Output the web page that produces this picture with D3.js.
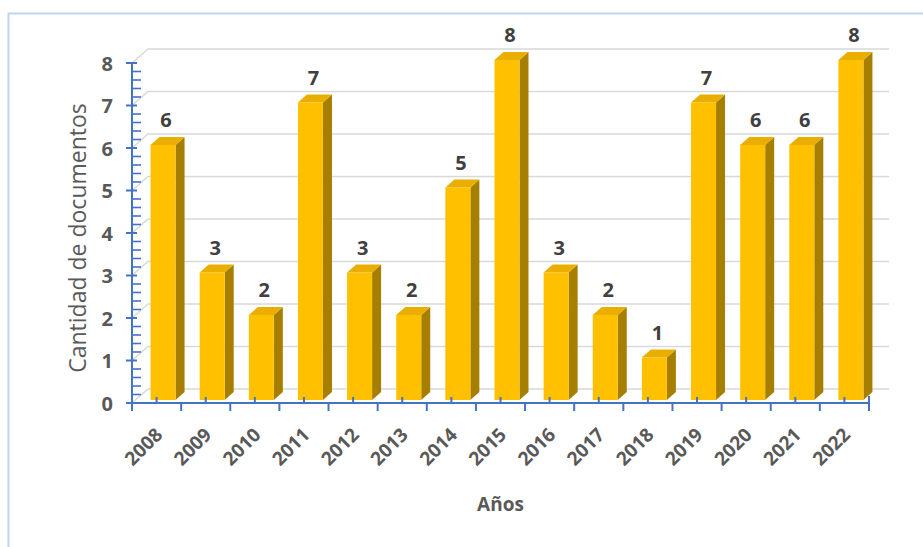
<!DOCTYPE html>
<html><head><meta charset="utf-8">
<script src="https://cdn.jsdelivr.net/npm/d3@7/dist/d3.min.js"></script>
<style>html,body{margin:0;padding:0;background:#fff;}svg{display:block;}</style>
</head><body>
<svg id="c" width="923" height="547"></svg>
<script>
const years = ["2008","2009","2010","2011","2012","2013","2014","2015","2016","2017","2018","2019","2020","2021","2022"];
const counts = [6,3,2,7,3,2,5,8,3,2,1,7,6,6,8];
const yTicks = [0,1,2,3,4,5,6,7,8];
const yTitle = "Cantidad de documentos";
const xTitle = "Años";

const svg = d3.select("#c");
const font = "'Open Sans', sans-serif";
const txt = "#595959";

// chart border
svg.append("rect").attr("x",8.5).attr("y",13.5).attr("width",940).attr("height",560)
  .attr("fill","none").attr("stroke","#BDD7EE").attr("stroke-width",2);

const L = 132, R = 869, B = 403, T = 63;
const wdx = 16, wdy = -14, wallR = 889;
const x = d3.scaleBand().domain(years).range([L,R]).padding(0);
const y = d3.scaleLinear().domain([0,8]).range([B,T]);

// gridlines (back wall + floor slant)
const g = svg.append("g");
yTicks.forEach(v=>{
  const yy = y(v);
  g.append("path").attr("d",`M${L},${yy} L${L+wdx},${yy+wdy} L${wallR},${yy+wdy}`)
   .attr("fill","none").attr("stroke","#D9D9D9").attr("stroke-width",1.6);
});

// bars
const bw = 25, bdx = 9, bdy = -8, off = 3;
const bars = svg.append("g");
years.forEach((yr,i)=>{
  const c = x(yr) + x.bandwidth()/2;
  const x0 = c - 6, x1 = x0 + bw;
  const yb = B - off, yt = y(counts[i]) - off;
  bars.append("path").attr("d",`M${x1},${yb} L${x1+bdx},${yb+bdy} L${x1+bdx},${yt+bdy} L${x1},${yt} Z`).attr("fill","#A67F00");
  bars.append("path").attr("d",`M${x0},${yt} L${x0+bdx},${yt+bdy} L${x1+bdx},${yt+bdy} L${x1},${yt} Z`).attr("fill","#E9AE00");
  bars.append("rect").attr("x",x0).attr("y",yt).attr("width",bw).attr("height",yb-yt).attr("fill","#FFC000");
  bars.append("text").attr("x",(x0+x1)/2+3).attr("y",yt-18).attr("text-anchor","middle")
    .attr("font-family",font).attr("font-weight","bold").attr("font-size",20).attr("fill","#404040").text(counts[i]);
});

// axes
const ax = "#4472C4";
const yAxis = d3.axisLeft(y).tickValues(yTicks).tickSize(0).tickFormat(d3.format("d"));
const ya = svg.append("g").attr("transform",`translate(${L},0)`).call(yAxis);
ya.select(".domain").attr("stroke",ax).attr("stroke-width",2).attr("d",`M0,${T}V${B}`);
ya.selectAll("text").attr("x",-19).attr("font-family",font).attr("font-weight","bold").attr("font-size",20).attr("fill",txt).attr("dy","0.35em");
// major ticks (cross)
yTicks.forEach(v=>svg.append("line").attr("x1",L-6).attr("x2",L+5).attr("y1",y(v)).attr("y2",y(v)).attr("stroke",ax).attr("stroke-width",2));
// minor ticks
for(let v=0; v<8; v++){ for(let k=1;k<5;k++){ const yy=y(v+k*0.2);
  svg.append("line").attr("x1",L).attr("x2",L+9).attr("y1",yy).attr("y2",yy).attr("stroke",ax).attr("stroke-width",1.6);} }

const xAxis = d3.axisBottom(x).tickSize(0);
const xa = svg.append("g").attr("transform",`translate(0,${B})`).call(xAxis);
xa.select(".domain").attr("stroke",ax).attr("stroke-width",2).attr("d",`M${L},0H${R}`);
xa.selectAll(".tick text").attr("font-family",font).attr("font-weight","bold").attr("font-size",19).attr("fill",txt)
  .attr("text-anchor","end").attr("dy",0).attr("y",0)
  .attr("transform","translate(7,33) rotate(-45)");
// boundary ticks (down) and center ticks (up)
years.forEach((yr,i)=>{
  const xb = x(yr);
  svg.append("line").attr("x1",xb).attr("x2",xb).attr("y1",B).attr("y2",B+8).attr("stroke",ax).attr("stroke-width",2);
  const c = xb + x.bandwidth()/2;
  svg.append("line").attr("x1",c).attr("x2",c).attr("y1",B).attr("y2",B-6).attr("stroke",ax).attr("stroke-width",2);
});
svg.append("line").attr("x1",R).attr("x2",R).attr("y1",B-7).attr("y2",B+8).attr("stroke",ax).attr("stroke-width",2);

// titles
svg.append("text").attr("transform",`translate(86,${(T+B)/2+5}) rotate(-90)`).attr("text-anchor","middle")
  .attr("font-family",font).attr("font-size",23).attr("fill",txt).text(yTitle);
svg.append("text").attr("x",(L+R)/2).attr("y",511).attr("text-anchor","middle")
  .attr("font-family",font).attr("font-weight","bold").attr("font-size",19).attr("fill",txt).text(xTitle);
</script>
</body></html>
